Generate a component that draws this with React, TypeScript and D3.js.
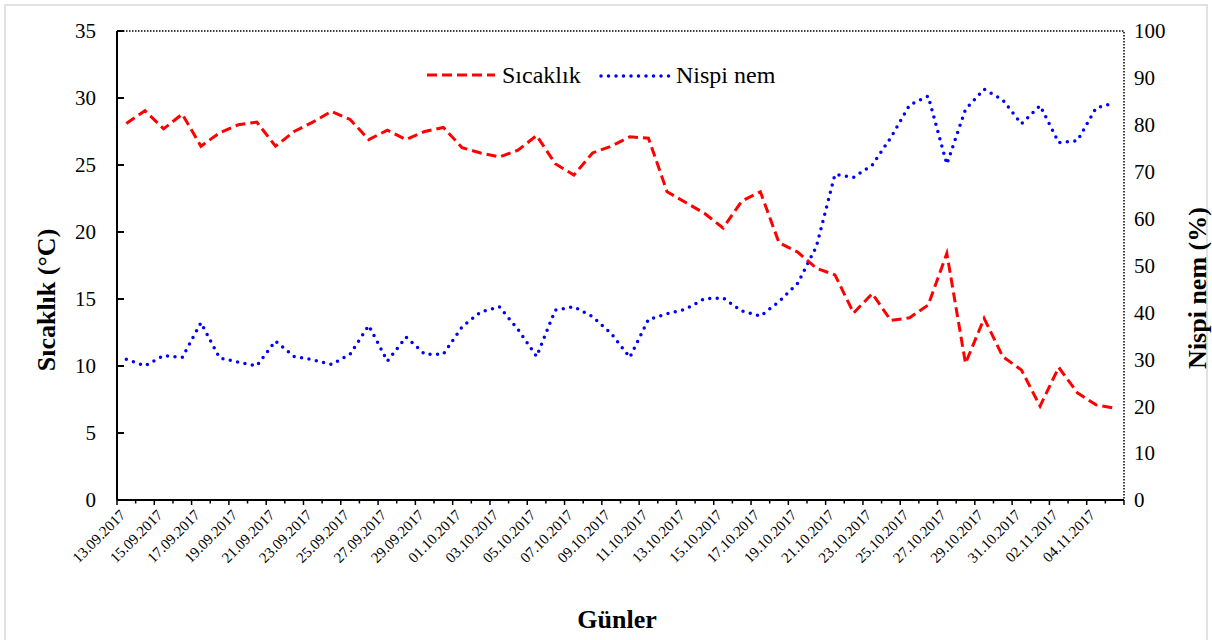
import React, { useEffect, useRef } from "react";
import * as d3 from "d3";

const dates = [
  "13.09.2017", "14.09.2017", "15.09.2017", "16.09.2017", "17.09.2017", "18.09.2017",
  "19.09.2017", "20.09.2017", "21.09.2017", "22.09.2017", "23.09.2017", "24.09.2017",
  "25.09.2017", "26.09.2017", "27.09.2017", "28.09.2017", "29.09.2017", "30.09.2017",
  "01.10.2017", "02.10.2017", "03.10.2017", "04.10.2017", "05.10.2017", "06.10.2017",
  "07.10.2017", "08.10.2017", "09.10.2017", "10.10.2017", "11.10.2017", "12.10.2017",
  "13.10.2017", "14.10.2017", "15.10.2017", "16.10.2017", "17.10.2017", "18.10.2017",
  "19.10.2017", "20.10.2017", "21.10.2017", "22.10.2017", "23.10.2017", "24.10.2017",
  "25.10.2017", "26.10.2017", "27.10.2017", "28.10.2017", "29.10.2017", "30.10.2017",
  "31.10.2017", "01.11.2017", "02.11.2017", "03.11.2017", "04.11.2017", "05.11.2017",
];

// Sıcaklık (°C)
const sicaklik = [
  28.1, 29.05, 27.7, 28.8, 26.4, 27.4, 28.0, 28.2, 26.4, 27.5, 28.2, 29.0,
  28.4, 26.9, 27.6, 26.9, 27.5, 27.8, 26.3, 25.9, 25.6, 26.1, 27.2, 25.1,
  24.25, 25.9, 26.4, 27.1, 27.0, 23.0, 22.2, 21.4, 20.3, 22.3, 23.0, 19.2,
  18.5, 17.3, 16.8, 13.95, 15.4, 13.4, 13.6, 14.55, 18.4, 10.2, 13.55, 10.7,
  9.7, 7.0, 9.9, 8.0, 7.1, 6.85,
];

// Nispi nem (%)
const nispiNem = [
  30.0, 28.6, 30.8, 30.4, 37.8, 30.3, 29.4, 28.6, 33.9, 30.6, 29.9, 28.9,
  31.1, 37.2, 29.6, 34.75, 31.1, 31.1, 36.9, 40.1, 41.2, 36.4, 30.6, 40.5,
  41.2, 39.1, 35.5, 30.4, 38.5, 39.7, 40.7, 42.9, 43.1, 40.3, 39.2, 42.3,
  46.2, 54.0, 69.4, 68.8, 71.4, 77.3, 84.2, 86.1, 71.6, 83.3, 87.6, 85.3,
  80.2, 84.1, 76.2, 76.6, 83.6, 84.7,
];

const leftTicks = [0, 5, 10, 15, 20, 25, 30, 35];
const rightTicks = [0, 10, 20, 30, 40, 50, 60, 70, 80, 90, 100];

const W = 1212;
const H = 640;
const FONT = "'Liberation Serif', 'Times New Roman', serif";

export default function App() {
  const ref = useRef<SVGSVGElement>(null);

  useEffect(() => {
    const svg = d3.select(ref.current);
    svg.selectAll("*").remove();

    const left = 117;
    const right = 1124;
    const top = 31;
    const bottom = 500;

    const x = d3.scaleBand<string>().domain(dates).range([left, right]).padding(0);
    const cx = (d: string) => (x(d) ?? 0) + x.bandwidth() / 2;
    const yL = d3.scaleLinear().domain([0, 35]).range([bottom, top]);
    const yR = d3.scaleLinear().domain([0, 100]).range([bottom, top]);

    // outer frame
    svg
      .append("rect")
      .attr("x", 5)
      .attr("y", 5)
      .attr("width", W - 10)
      .attr("height", H)
      .attr("fill", "#fff")
      .attr("stroke", "#d9d9d9")
      .attr("stroke-width", 1.5);

    // dotted top & right border
    svg
      .append("path")
      .attr("d", `M${left},${top}H${right}V${bottom}`)
      .attr("fill", "none")
      .attr("stroke", "#000")
      .attr("stroke-width", 1.5)
      .attr("stroke-dasharray", "1.5 1.5");

    // left axis
    const gL = svg.append("g").attr("transform", `translate(${left},0)`);
    gL.append("line")
      .attr("y1", top)
      .attr("y2", bottom)
      .attr("stroke", "#000")
      .attr("stroke-width", 2);
    gL.selectAll(".tk")
      .data(leftTicks)
      .enter()
      .append("line")
      .attr("x1", 0)
      .attr("x2", 7)
      .attr("y1", (d) => yL(d))
      .attr("y2", (d) => yL(d))
      .attr("stroke", "#000")
      .attr("stroke-width", 2);
    gL.selectAll(".lb")
      .data(leftTicks)
      .enter()
      .append("text")
      .attr("x", -21)
      .attr("y", (d) => yL(d))
      .attr("dy", "0.35em")
      .attr("text-anchor", "end")
      .attr("font-family", FONT)
      .attr("font-size", 21)
      .text((d) => d);

    // right axis labels
    svg
      .selectAll(".rl")
      .data(rightTicks)
      .enter()
      .append("text")
      .attr("x", right + 10)
      .attr("y", (d) => yR(d))
      .attr("dy", "0.35em")
      .attr("text-anchor", "start")
      .attr("font-family", FONT)
      .attr("font-size", 21)
      .text((d) => d);

    // bottom axis
    const gB = svg.append("g");
    gB.append("line")
      .attr("x1", left)
      .attr("x2", right)
      .attr("y1", bottom)
      .attr("y2", bottom)
      .attr("stroke", "#000")
      .attr("stroke-width", 2);
    const bounds = d3.range(dates.length + 1);
    gB.selectAll(".bt")
      .data(bounds)
      .enter()
      .append("line")
      .attr("x1", (i) => left + i * x.bandwidth())
      .attr("x2", (i) => left + i * x.bandwidth())
      .attr("y1", bottom)
      .attr("y2", (i) => bottom + (i % 2 === 0 ? 5 : 3.5))
      .attr("stroke", "#000")
      .attr("stroke-width", 1.5);
    gB.selectAll(".bl")
      .data(dates.filter((_, i) => i % 2 === 0))
      .enter()
      .append("text")
      .attr("transform", (d) => `translate(${cx(d)},${bottom + 16}) rotate(-45)`)
      .attr("text-anchor", "end")
      .attr("font-family", FONT)
      .attr("font-size", 15)
      .text((d) => d);

    // series
    const lineL = d3
      .line<number>()
      .x((_, i) => cx(dates[i]))
      .y((d) => yL(d));
    const lineR = d3
      .line<number>()
      .x((_, i) => cx(dates[i]))
      .y((d) => yR(d));

    svg
      .append("path")
      .datum(nispiNem)
      .attr("d", lineR)
      .attr("fill", "none")
      .attr("stroke", "#0000ff")
      .attr("stroke-width", 3.5)
      .attr("stroke-linecap", "round")
      .attr("stroke-dasharray", "0 7.5");

    svg
      .append("path")
      .datum(sicaklik)
      .attr("d", lineL)
      .attr("fill", "none")
      .attr("stroke", "#ff0000")
      .attr("stroke-width", 3)
      .attr("stroke-dasharray", "10 5");

    // legend
    const lg = svg.append("g");
    lg.append("line")
      .attr("x1", 427)
      .attr("x2", 495)
      .attr("y1", 75)
      .attr("y2", 75)
      .attr("stroke", "#ff0000")
      .attr("stroke-width", 3)
      .attr("stroke-dasharray", "10 5");
    lg.append("text")
      .attr("x", 502)
      .attr("y", 75)
      .attr("dy", "0.35em")
      .attr("font-family", FONT)
      .attr("font-size", 24)
      .text("Sıcaklık");
    lg.append("line")
      .attr("x1", 601)
      .attr("x2", 669)
      .attr("y1", 76)
      .attr("y2", 76)
      .attr("stroke", "#0000ff")
      .attr("stroke-width", 3.5)
      .attr("stroke-linecap", "round")
      .attr("stroke-dasharray", "0 7.5");
    lg.append("text")
      .attr("x", 676)
      .attr("y", 75)
      .attr("dy", "0.35em")
      .attr("font-family", FONT)
      .attr("font-size", 24)
      .text("Nispi nem");

    // axis titles
    svg
      .append("text")
      .attr("transform", `translate(46,300) rotate(-90)`)
      .attr("text-anchor", "middle")
      .attr("dy", "0.35em")
      .attr("font-family", FONT)
      .attr("font-weight", "bold")
      .attr("font-size", 26)
      .text("Sıcaklık (°C)");
    svg
      .append("text")
      .attr("transform", `translate(1197,288) rotate(-90)`)
      .attr("text-anchor", "middle")
      .attr("dy", "0.35em")
      .attr("font-family", FONT)
      .attr("font-weight", "bold")
      .attr("font-size", 26)
      .text("Nispi nem (%)");
    svg
      .append("text")
      .attr("x", 617)
      .attr("y", 619)
      .attr("dy", "0.35em")
      .attr("text-anchor", "middle")
      .attr("font-family", FONT)
      .attr("font-weight", "bold")
      .attr("font-size", 26)
      .text("Günler");
  }, []);

  return (
    <svg
      ref={ref}
      width={W}
      height={H}
      style={{ position: "absolute", left: 0, top: 0 }}
    />
  );
}
